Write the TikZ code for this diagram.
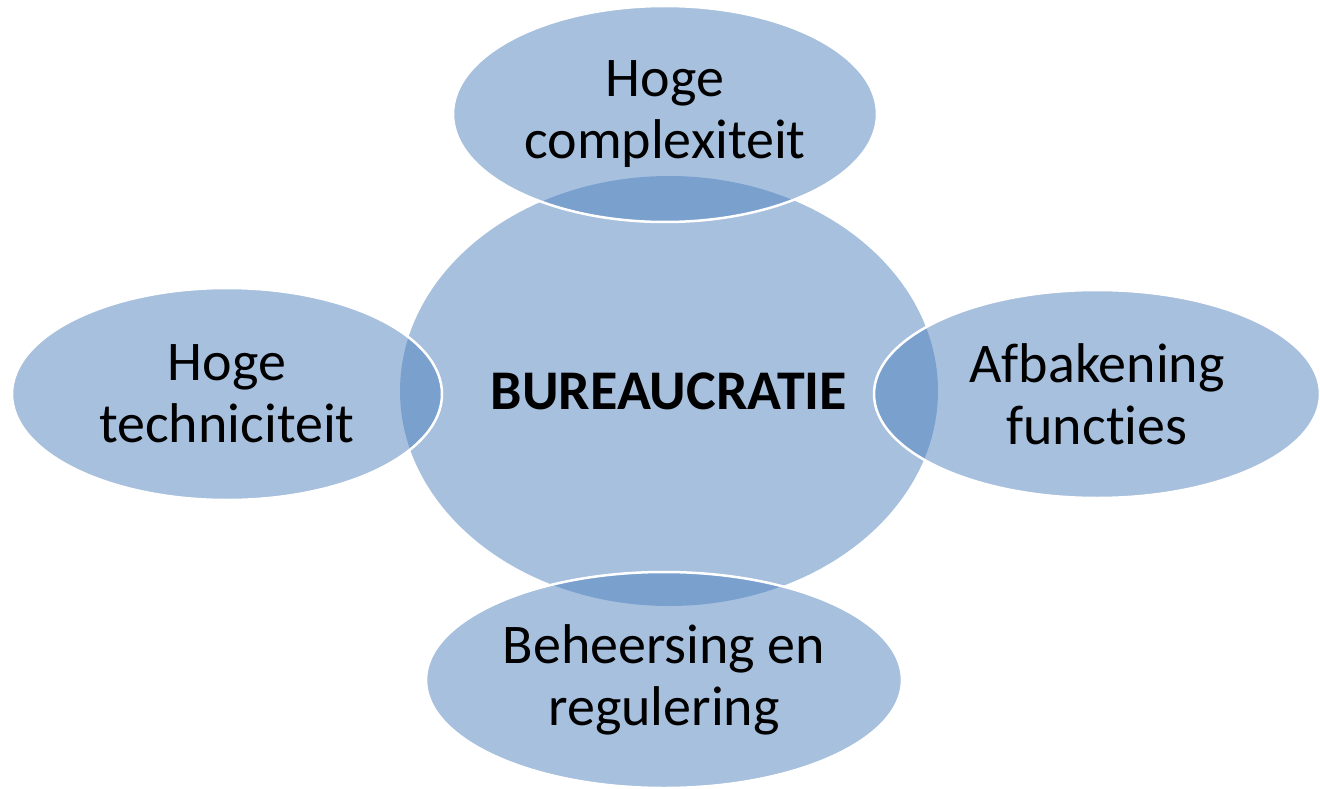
\documentclass[tikz,border=0pt]{standalone}
\usepackage{fontspec}
\setmainfont[Ligatures=NoCommon]{Carlito}
\usetikzlibrary{shapes.geometric}
\definecolor{bub}{HTML}{4F81BD}
\begin{document}
\begin{tikzpicture}[x=1pt,y=-1pt,
  bubble/.style={ellipse, inner sep=0pt, fill=bub, fill opacity=0.5, text opacity=1,
    draw=white, draw opacity=1, line width=2.5pt, align=center, text=black,
    font=\fontsize{56}{62}\selectfont}]
\useasboundingbox (0,0) rectangle (1320,789);
\node[bubble, minimum width=538pt, minimum height=430pt, draw=none] (c) at (669,391) {\textbf{BUREAUCRATIE}};
\node[bubble, minimum width=424pt, minimum height=216pt] (t) at (665,114) {Hoge\\complexiteit};
\node[bubble, minimum width=430pt, minimum height=212pt] (l) at (227,394) {Hoge\\techniciteit};
\node[bubble, minimum width=446pt, minimum height=208pt] (r) at (1097,394) {Afbakening\\functies};
\node[bubble, minimum width=476pt, minimum height=216pt] (b) at (664,680) {Beheersing en\\regulering};
\end{tikzpicture}
\end{document}
